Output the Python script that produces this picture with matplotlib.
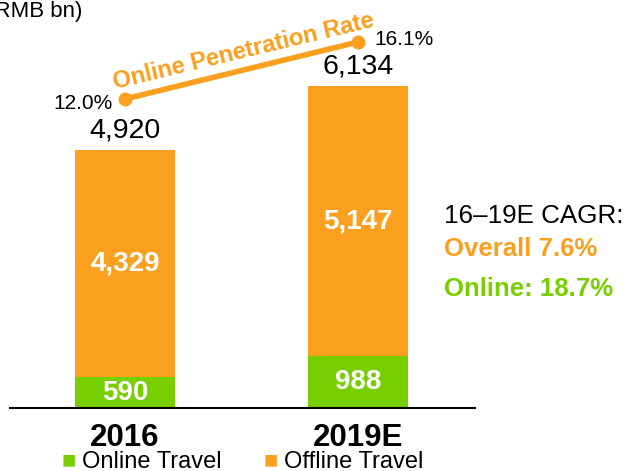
import matplotlib.pyplot as plt

plt.rcParams['font.family'] = ['Liberation Sans', 'DejaVu Sans']

years = ['2016', '2019E']
online = [590, 988]
offline = [4329, 5147]
totals = [4920, 6134]
penetration = [12.0, 16.1]

green = '#78CF00'
orange = '#FA9F1E'

fig = plt.figure(figsize=(6.27, 4.71), dpi=100)
W, H = 627, 471
ax = fig.add_axes([10 / W, 63 / H, 465 / W, 408 / H])

x = [0, 1]
ax.bar(x, online, width=0.433, color=green)
ax.bar(x, offline, width=0.433, bottom=online, color=orange)
ax.set_xlim(-0.4936, 1.502)
ax.set_ylim(0, 7780)

for i in x:
    ax.text(i, online[i] / 2, f'{online[i]:,}', ha='center', va='center',
            color='white', fontsize=20, fontweight='bold')
    ax.text(i, online[i] + offline[i] / 2, f'{offline[i]:,}', ha='center', va='center',
            color='white', fontsize=20, fontweight='bold')
    ax.text(i, totals[i] + 130, f'{totals[i]:,}', ha='center', va='bottom',
            color='black', fontsize=20.5)

for s in ['top', 'right', 'left']:
    ax.spines[s].set_visible(False)
ax.spines['bottom'].set_linewidth(1.5)
ax.set_yticks([])
ax.set_xticks(x)
ax.set_xticklabels(years, fontsize=22.5, fontweight='bold')
ax.tick_params(axis='x', length=0, pad=11)

# penetration rate on its own scale
ax2 = ax.twinx()
ax2.set_ylim(-10.23, 19.12)
ax2.axis('off')
ax2.plot(x, penetration, color=orange, lw=4, marker='o', ms=9, solid_capstyle='round')
ax2.text(x[0] - 0.055, penetration[0] - 0.35, f'{penetration[0]:.1f}%', ha='right', va='center', fontsize=15)
ax2.text(x[1] + 0.07, penetration[1] + 0.15, f'{penetration[1]:.1f}%', ha='left', va='center', fontsize=15)
ax2.text(0.515, 14.98, 'Online Penetration Rate', ha='center', va='baseline', rotation=13.5,
         color=orange, fontsize=17, fontweight='bold', rotation_mode='anchor')

fig.text(-13 / W, 1 - 12 / H, '(RMB bn)', fontsize=16, ha='left', va='center')

fig.text(444 / W, 1 - 216 / H, '16–19E CAGR:', fontsize=18.7, va='center')
fig.text(444 / W, 1 - 249 / H, 'Overall 7.6%', fontsize=18.5, va='center', color=orange, fontweight='bold')
fig.text(444 / W, 1 - 289 / H, 'Online: 18.7%', fontsize=18.5, va='center', color=green, fontweight='bold')

# legend drawn as text with square markers
fig.text(62 / W, 1 - 461 / H, '■', fontsize=17, color=green, va='center')
fig.text(82 / W, 1 - 462 / H, 'Online Travel', fontsize=17, va='center')
fig.text(264 / W, 1 - 461 / H, '■', fontsize=17, color=orange, va='center')
fig.text(284 / W, 1 - 462 / H, 'Offline Travel', fontsize=17, va='center')

fig.savefig('out.png', dpi=100)
